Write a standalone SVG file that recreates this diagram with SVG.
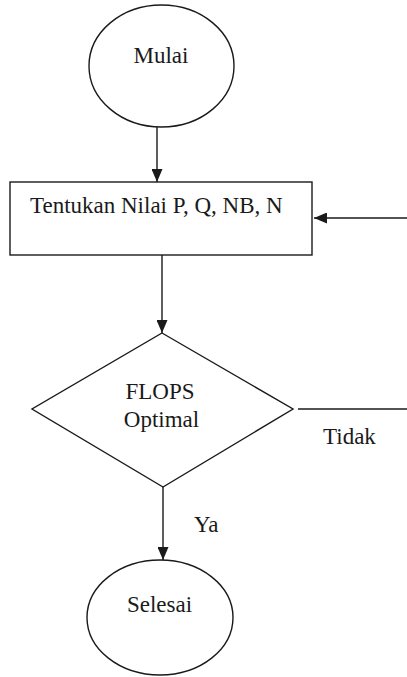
<svg xmlns="http://www.w3.org/2000/svg" width="407" height="677" viewBox="0 0 407 677">
<defs>
<style>
.shape{fill:#fff;stroke:#1a1a1a;stroke-width:1.4}
.line{fill:none;stroke:#1a1a1a;stroke-width:1.4}
text{font-family:"Liberation Serif","Times New Roman",serif;font-size:23px;fill:#1a1a1a}
.c{text-anchor:middle}
</style>
<marker id="arr" markerWidth="13" markerHeight="11" refX="13" refY="5.5" orient="auto" markerUnits="userSpaceOnUse">
<path d="M0,0 L13,5.5 L0,11 Z" fill="#1a1a1a"/>
</marker>
</defs>
<rect width="407" height="677" fill="#fff"/>
<g id="connectors">
<line class="line" x1="157" y1="127" x2="157" y2="182" marker-end="url(#arr)"/>
<line class="line" x1="162" y1="255" x2="162" y2="333" marker-end="url(#arr)"/>
<line class="line" x1="163" y1="487" x2="163" y2="560" marker-end="url(#arr)"/>
<line class="line" x1="298" y1="409" x2="407" y2="409"/>
<line class="line" x1="407" y1="218" x2="314" y2="218" marker-end="url(#arr)"/>
<text x="194" y="532">Ya</text>
<text x="323" y="444">Tidak</text>
</g>
<g id="mulai">
<ellipse class="shape" cx="161.5" cy="66" rx="72.5" ry="61"/>
<text class="c" x="161" y="63">Mulai</text>
</g>
<g id="tentukan">
<rect class="shape" x="10" y="182" width="302" height="73"/>
<text x="30" y="213">Tentukan Nilai P, Q, NB, N</text>
</g>
<g id="flops">
<polygon class="shape" points="162,333 293,409 163,487 32,409"/>
<text class="c" x="160" y="399">FLOPS</text>
<text class="c" x="161.5" y="427">Optimal</text>
</g>
<g id="selesai">
<ellipse class="shape" cx="160" cy="617.5" rx="73" ry="57.5"/>
<text class="c" x="159.5" y="612">Selesai</text>
</g>
</svg>
